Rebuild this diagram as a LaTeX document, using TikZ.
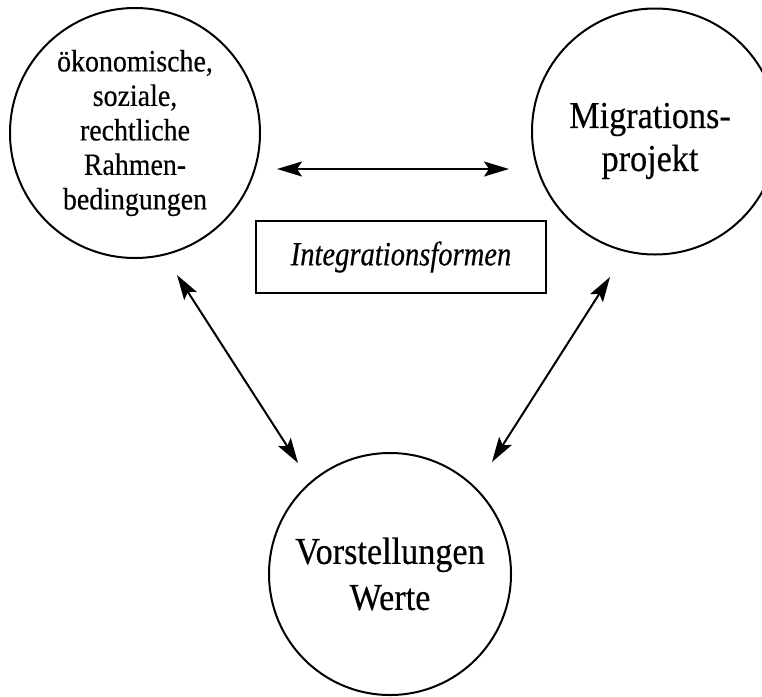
\documentclass[tikz,border=0pt]{standalone}
\usepackage{fontspec}
\setmainfont{Liberation Serif}[FakeStretch=0.9,FakeBold=0.4]
\newfontfamily\boxfont{Liberation Serif}[FakeStretch=0.84,FakeBold=0.4]
\usetikzlibrary{arrows.meta}
\begin{document}
\begin{tikzpicture}[x=1pt,y=-1pt,
  circ/.style={draw,circle,line width=2pt,inner sep=0pt,align=center},
  arr/.style={line width=2pt,{Stealth[length=25pt,width=15pt,inset=5pt]}-{Stealth[length=25pt,width=15pt,inset=5pt]}},
  labelbox/.style={draw,rectangle,line width=2.4pt,minimum width=290pt,minimum height=72pt,inner sep=0pt}]
\useasboundingbox (0,0) rectangle (762,696);
\node[circ,minimum size=250pt,font=\fontsize{31}{34.5}\selectfont] (L) at (135,133)
  {ökonomische,\\soziale,\\rechtliche\\Rahmen-\\bedingungen};
\node[circ,minimum size=246pt,font=\fontsize{38}{43}\selectfont] (R) at (655,131.5)
  {\rule{0pt}{44pt}\hspace*{-10pt}Migrations-\\\hspace*{-10pt}projekt};
\node[circ,minimum size=242pt,font=\fontsize{38}{46}\selectfont] (B) at (390,574)
  {Vorstellungen\\Werte};
\node[labelbox,font=\fontsize{34}{36}\boxfont\itshape] (I) at (401,257) {Integrationsformen};
\coordinate (h1) at (277,169);
\coordinate (h2) at (509,169);
\coordinate (l1) at (177,275);
\coordinate (l2) at (298,463);
\coordinate (r1) at (610,277);
\coordinate (r2) at (492,462);
\draw[arr] (h1) -- (h2);
\draw[arr] (l1) -- (l2);
\draw[arr] (r1) -- (r2);
\end{tikzpicture}
\end{document}
